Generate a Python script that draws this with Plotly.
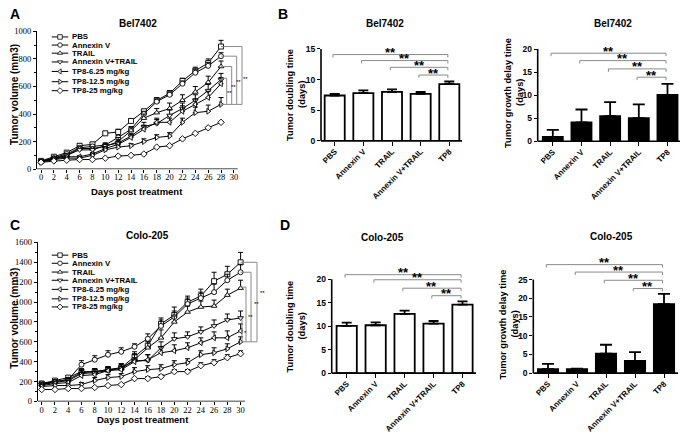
import plotly.graph_objects as go

W, H = 685, 438

# ---------------- data ----------------
groups = ["PBS", "Annexin V", "TRAIL", "Annexin V+TRAIL",
          "TP8-6.25 mg/kg", "TP8-12.5 mg/kg", "TP8-25 mg/kg"]
symbols = ["square", "circle", "triangle-up", "triangle-down",
           "triangle-left", "triangle-right", "diamond"]

days_bel = [0, 2, 4, 6, 8, 10, 12, 14, 16, 18, 20, 22, 24, 26, 28]
bel_vol = [
    [60, 90, 120, 170, 180, 260, 270, 350, 420, 500, 550, 640, 715, 770, 890],
    [55, 80, 110, 155, 165, 175, 230, 290, 400, 490, 540, 620, 700, 750, 820],
    [55, 80, 100, 150, 150, 165, 200, 280, 370, 410, 440, 500, 560, 630, 745],
    [55, 75, 100, 140, 140, 170, 190, 240, 310, 330, 390, 440, 500, 570, 650],
    [55, 70, 90, 90, 110, 150, 180, 230, 290, 340, 340, 420, 470, 520, 620],
    [50, 70, 80, 80, 100, 140, 160, 170, 200, 230, 240, 340, 410, 420, 470],
    [50, 60, 65, 70, 70, 80, 95, 100, 110, 160, 170, 220, 260, 300, 340],
]
bel_err = [
    [8, 10, 12, 15, 15, 15, 20, 15, 15, 20, 20, 20, 25, 30, 45],
    [6, 8, 10, 12, 12, 15, 15, 20, 20, 20, 20, 20, 25, 25, 25],
    [6, 8, 10, 12, 12, 15, 30, 20, 30, 30, 40, 40, 40, 45, 40],
    [6, 8, 10, 12, 12, 15, 20, 20, 30, 30, 40, 40, 40, 45, 45],
    [6, 8, 8, 8, 10, 15, 20, 20, 25, 30, 30, 40, 40, 45, 45],
    [5, 6, 8, 8, 10, 12, 15, 15, 20, 20, 25, 30, 40, 45, 50],
    [5, 5, 5, 5, 5, 5, 5, 5, 5, 5, 5, 5, 5, 5, 5],
]

days_colo = [0, 2, 4, 6, 8, 10, 12, 14, 16, 18, 20, 22, 24, 26, 28, 30]
colo_vol = [
    [180, 210, 240, 300, 300, 320, 340, 450, 560, 780, 870, 1000, 1060, 1210, 1280, 1400],
    [180, 200, 220, 370, 420, 470, 500, 550, 630, 760, 850, 980, 1040, 1100, 1220, 1300],
    [170, 200, 220, 290, 300, 320, 330, 420, 540, 640, 800, 900, 950, 960, 1070, 1140],
    [170, 190, 210, 280, 290, 310, 340, 410, 410, 540, 630, 650, 700, 760, 820, 840],
    [160, 180, 190, 260, 270, 310, 320, 400, 420, 490, 510, 540, 590, 640, 640, 710],
    [150, 160, 160, 170, 210, 240, 250, 300, 320, 330, 370, 390, 470, 490, 530, 600],
    [120, 120, 130, 130, 140, 160, 170, 230, 230, 250, 300, 300, 360, 390, 440, 480],
]
colo_err = [
    [15, 15, 20, 30, 30, 30, 40, 30, 50, 60, 80, 60, 70, 90, 80, 100],
    [15, 15, 20, 40, 40, 40, 40, 30, 50, 60, 60, 60, 60, 80, 60, 80],
    [15, 15, 20, 30, 30, 30, 40, 80, 60, 80, 60, 60, 60, 60, 60, 80],
    [15, 15, 20, 30, 30, 30, 40, 60, 60, 60, 60, 50, 50, 60, 60, 70],
    [15, 15, 20, 30, 30, 30, 30, 40, 50, 60, 60, 50, 50, 60, 70, 70],
    [15, 15, 15, 20, 30, 30, 30, 40, 40, 40, 40, 40, 40, 50, 50, 50],
    [10, 10, 10, 10, 10, 10, 10, 10, 20, 20, 20, 20, 30, 30, 30, 30],
]

# brackets on the growth curves: top values, common bottom value
bel_br_top = [890, 820, 745, 660]
bel_br_bottom = 470
bel_br_stars = ["**", "**", "**", "**"]
colo_br_top = [1400, 1300, 1150, 840]
colo_br_bottom = 600
colo_br_stars = ["**", "**", "**", "*"]

bar_cats = ["PBS", "Annexin V", "TRAIL", "Annexin V+TRAIL", "TP8"]
bel_dt = [7.4, 7.8, 8.0, 7.65, 9.25]
bel_dt_err = [0.25, 0.45, 0.4, 0.32, 0.43]
bel_gd = [0.95, 4.1, 5.45, 5.05, 10.05]
bel_gd_err = [1.55, 2.8, 3.05, 2.95, 2.4]
colo_dt = [10.08, 10.2, 12.64, 10.56, 14.58]
colo_dt_err = [0.69, 0.6, 0.66, 0.55, 0.72]
colo_gd = [1.05, 1.05, 5.2, 3.24, 18.45]
colo_gd_err = [1.4, 0.17, 2.37, 2.34, 2.7]

bel_dt_br = [14.08, 13.1, 12.0, 10.74]
bel_gd_br = [19.1, 17.5, 15.7, 13.9]
colo_dt_br = [20.98, 19.9, 18.1, 16.5]
colo_gd_br = [28.98, 27.0, 24.8, 22.6]

# ---------------- helpers ----------------
SANS = "Liberation Sans, Arial, sans-serif"
SERIF = "Liberation Serif, Times New Roman, serif"
GRAY = "#8a8a8a"


def fx(px):
    return min(max(px / W, 0), 1)


def fy(py):
    return min(max(1 - py / H, 0), 1)


fig = go.Figure()
layout = dict(width=W, height=H, margin=dict(l=0, r=0, t=0, b=0),
              paper_bgcolor="white", plot_bgcolor="rgba(0,0,0,0)",
              showlegend=False)
shapes = []
annotations = []


def ann(text, px, py, size, angle=0, bold=True, xanchor="center", yanchor="middle", color="black"):
    annotations.append(dict(
        text=text, x=fx(px), y=fy(py), xref="paper", yref="paper", align="center",
        showarrow=False, textangle=angle, xanchor=xanchor, yanchor=yanchor,
        font=dict(family=SANS, size=size, color=color, weight="bold" if bold else "normal")))


# ---------------- growth-curve panels ----------------
def line_panel(idx, days, vols, errs, x0px, xstep, ax_px, right_px, spine_end_day,
               zero_py, top_py, ymax, ytickstep, br_top, br_bottom, br_xpx, star_xpx,
               star_y, stars):
    xa = "xaxis" if idx == 1 else "xaxis%d" % idx
    ya = "yaxis" if idx == 1 else "yaxis%d" % idx
    xr = "x" if idx == 1 else "x%d" % idx
    yr = "y" if idx == 1 else "y%d" % idx
    xmin = (ax_px - x0px) / xstep
    xmax = (right_px - x0px) / xstep
    layout[xa] = dict(domain=[fx(ax_px), fx(right_px)], range=[xmin, xmax], anchor=yr,
                      tickvals=list(range(0, 31, 2)), ticks="outside", ticklen=3,
                      tickwidth=1, tickcolor="black", showline=False, showgrid=False,
                      zeroline=False, ticklabelstandoff=-3,
                      tickfont=dict(family=SERIF, size=8.5, color="black"))
    layout[ya] = dict(domain=[fy(zero_py), fy(top_py)], range=[0, ymax], anchor=xr,
                      tickvals=list(range(0, ymax + 1, ytickstep)), ticks="outside",
                      ticklen=3, tickwidth=1, tickcolor="black", showline=True,
                      linecolor="black", linewidth=1, showgrid=False, zeroline=False,
                      tickfont=dict(family=SERIF, size=8.5, color="black"),
                      minor=dict(ticks="outside", ticklen=2, tickcolor="black",
                                 dtick=ytickstep / 2))
    # x spine
    shapes.append(dict(type="line", xref=xr, yref=yr, x0=xmin, x1=spine_end_day, y0=0, y1=0,
                       line=dict(color="black", width=1.2)))
    for g in range(len(vols)):
        fig.add_trace(go.Scatter(
            x=days, y=vols[g], mode="lines+markers", xaxis=xr, yaxis=yr,
            line=dict(color="black", width=1),
            marker=dict(symbol=symbols[g], size=5, color="white",
                        line=dict(color="black", width=0.9)),
            error_y=dict(type="data", array=errs[g], arrayminus=[0] * len(days),
                         symmetric=False, color="black", thickness=1, width=2.5),
            name=groups[g]))
    last = days[-1]
    for i, top in enumerate(br_top):
        xv = (br_xpx[i] - x0px) / xstep
        shapes.append(dict(type="line", xref=xr, yref=yr, x0=last, x1=xv, y0=top, y1=top,
                           line=dict(color=GRAY, width=1)))
        shapes.append(dict(type="line", xref=xr, yref=yr, x0=xv, x1=xv, y0=top, y1=br_bottom,
                           line=dict(color=GRAY, width=1)))
        annotations.append(dict(text=stars[i], x=(star_xpx[i] - x0px) / xstep, y=star_y[i],
                                xref=xr, yref=yr, showarrow=False,
                                font=dict(family=SANS, size=6, color="black")))
    xv_out = (max(br_xpx) - x0px) / xstep
    shapes.append(dict(type="line", xref=xr, yref=yr, x0=last, x1=xv_out, y0=br_bottom,
                       y1=br_bottom, line=dict(color=GRAY, width=1)))


line_panel(1, days_bel, bel_vol, bel_err, x0px=41, xstep=6.43, ax_px=37, right_px=262,
           spine_end_day=30.6, zero_py=168, top_py=27, ymax=1000, ytickstep=200,
           br_top=bel_br_top, br_bottom=bel_br_bottom, br_xpx=[242, 236.7, 231.7, 226.7],
           star_xpx=[245.5, 238.8, 233.8, 229.3], star_y=[652, 631, 596, 553],
           stars=bel_br_stars)
line_panel(4, days_colo, colo_vol, colo_err, x0px=41.7, xstep=6.63, ax_px=37.7, right_px=268,
           spine_end_day=30.66, zero_py=405.7, top_py=243, ymax=1600, ytickstep=200,
           br_top=colo_br_top, br_bottom=colo_br_bottom, br_xpx=[257, 251, 246, 242],
           star_xpx=[262, 256, 250.5, 245.5], star_y=[1090, 980, 853, 686],
           stars=colo_br_stars)


# ---------------- bar panels ----------------
def bar_panel(idx, vals, errs, brs, ax_px, c0, step, spine_end_px, zero_py, unit, top_py,
              ymaxtick, fill, capw):
    xa, ya = "xaxis%d" % idx, "yaxis%d" % idx
    xr, yr = "x%d" % idx, "y%d" % idx
    right_px = min(spine_end_px + 4, W)
    xmin = (ax_px - c0) / step
    xmax = (right_px - c0) / step
    ytop = (zero_py - top_py) / unit
    layout[xa] = dict(domain=[fx(ax_px), fx(right_px)], range=[xmin, xmax], anchor=yr,
                      tickvals=list(range(len(bar_cats))), ticktext=bar_cats, tickangle=-45,
                      ticks="outside", ticklen=4, tickwidth=1.3, tickcolor="black",
                      showline=False, showgrid=False, zeroline=False, ticklabelstandoff=-2,
                      tickfont=dict(family=SANS, size=8, color="black", weight="bold"))
    layout[ya] = dict(domain=[fy(zero_py), fy(top_py)], range=[0, ytop], anchor=xr,
                      tickvals=list(range(0, ymaxtick + 1, 5)), ticks="outside", ticklen=3,
                      tickwidth=1.3, tickcolor="black", showline=False, showgrid=False,
                      zeroline=False,
                      tickfont=dict(family=SANS, size=8.5, color="black", weight="bold"))
    # spines
    shapes.append(dict(type="line", xref="paper", yref="paper", x0=fx(ax_px), x1=fx(spine_end_px),
                       y0=fy(zero_py), y1=fy(zero_py), line=dict(color="black", width=1.6)))
    shapes.append(dict(type="line", xref="paper", yref="paper", x0=fx(ax_px), x1=fx(ax_px),
                       y0=fy(zero_py), y1=fy(zero_py - ymaxtick * unit),
                       line=dict(color="black", width=1.6)))
    fig.add_trace(go.Bar(
        x=list(range(len(vals))), y=vals, xaxis=xr, yaxis=yr, width=0.7,
        marker=dict(color=fill, line=dict(color="black", width=1.8)),
        error_y=dict(type="data", array=errs, arrayminus=[0] * len(vals), symmetric=False,
                     color="black", thickness=1.8, width=capw)))
    last = len(vals) - 1
    drop = 3.0 / unit
    for i, lvl in enumerate(brs):
        xs = i - 0.06
        xe = last - 0.05
        shapes.append(dict(type="path", xref=xr, yref=yr,
                           path="M %f,%f L %f,%f L %f,%f L %f,%f" % (
                               xs, lvl - drop, xs, lvl, xe, lvl, xe, lvl - drop),
                           line=dict(color=GRAY, width=1)))
        annotations.append(dict(text="**", x=(xs + xe) / 2, y=lvl + 2.0 / unit, xref=xr, yref=yr,
                                showarrow=False, yanchor="middle",
                                font=dict(family=SANS, size=13, color="black", weight="bold")))


bar_panel(2, bel_dt, bel_dt_err, bel_dt_br, ax_px=321, c0=334.7, step=28.65, spine_end_px=462,
          zero_py=139, unit=6.27, top_py=36, ymaxtick=15, fill="white", capw=5)
bar_panel(3, bel_gd, bel_gd_err, bel_gd_br, ax_px=537.7, c0=552.8, step=28.67, spine_end_px=680,
          zero_py=139.5, unit=4.72, top_py=36, ymaxtick=20, fill="black", capw=6)
bar_panel(5, colo_dt, colo_dt_err, colo_dt_br, ax_px=331.7, c0=346.7, step=28.95, spine_end_px=476,
          zero_py=376.7, unit=4.8, top_py=262, ymaxtick=20, fill="white", capw=5)
bar_panel(6, colo_gd, colo_gd_err, colo_gd_br, ax_px=533.3, c0=548, step=29.0, spine_end_px=678,
          zero_py=376.7, unit=3.83, top_py=255, ymaxtick=25, fill="black", capw=6)

# ---------------- legend overlay (pixel axis) ----------------
layout["xaxis7"] = dict(domain=[0, 1], range=[0, W], visible=False, fixedrange=True)
layout["yaxis7"] = dict(domain=[0, 1], range=[H, 0], visible=False, fixedrange=True,
                        anchor="x7")
leg_rows_a = [32.7, 41.0, 49.3, 58.3, 68.0, 78.5, 87.7]
leg_rows_c = [256, 264.3, 273.3, 281.7, 291, 300.7, 309]
for rows in (leg_rows_a, leg_rows_c):
    for g, ry in enumerate(rows):
        fig.add_trace(go.Scatter(x=[51.7, 68.3], y=[ry, ry], mode="lines", xaxis="x7", yaxis="y7",
                                 line=dict(color="black", width=1), hoverinfo="skip"))
        fig.add_trace(go.Scatter(x=[60], y=[ry], mode="markers", xaxis="x7", yaxis="y7",
                                 marker=dict(symbol=symbols[g], size=4.5, color="white",
                                             line=dict(color="black", width=0.8)),
                                 hoverinfo="skip"))
        ann(groups[g], 69.5, ry, 7.8, xanchor="left")

# ---------------- text ----------------
ann("A", 15, 9, 14)
ann("B", 283, 9, 14)
ann("C", 15, 225, 14)
ann("D", 285, 225, 14)
ann("Bel7402", 138, 19, 10)
ann("Colo-205", 147, 236, 10)
ann("Bel7402", 385.5, 19, 10)
ann("Bel7402", 613, 19, 10)
ann("Colo-205", 382, 238.3, 10)
ann("Colo-205", 611, 236.7, 10)
ann("Tumor volume (mm3)", 15, 92, 10, angle=-90)
ann("Tumor volume (mm3)", 15, 321, 10, angle=-90)
ann("Days post treatment", 137, 191, 9.5)
ann("Days post treatment", 143, 424, 9.5)
# two-line y titles of the bar panels, one annotation per line
ann("Tumor doubling time", 290, 92, 9.3, angle=-90)
ann("(days)", 302, 92, 9.3, angle=-90)
ann("Tumor growth delay time", 508, 90, 9.3, angle=-90)
ann("(days)", 520, 90, 9.3, angle=-90)
ann("Tumor doubling time", 290, 329, 9.3, angle=-90)
ann("(days)", 302, 329, 9.3, angle=-90)
ann("Tumor growth delay time", 503, 327, 9.3, angle=-90)
ann("(days)", 515, 327, 9.3, angle=-90)

layout["shapes"] = shapes
layout["annotations"] = annotations
fig.update_layout(**layout)
fig.write_html("out.html", config={"displayModeBar": False},
               post_script="document.body.style.margin='0px';"
                           "document.body.style.overflow='hidden';")
